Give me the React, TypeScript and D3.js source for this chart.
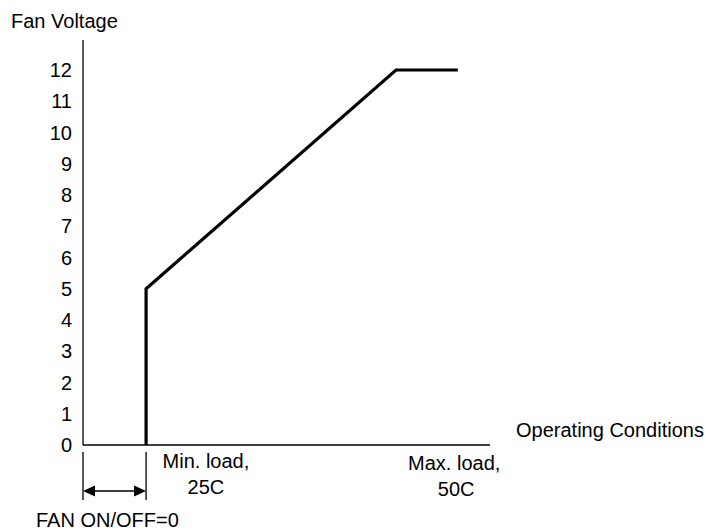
import React from "react";
import * as d3 from "d3";

// Data
const opCondition = [15.5, 15.5, 76.9, 92.1]; // operating condition (arbitrary units along x)
const fanVoltage = [0, 5, 12, 12];
const yTicks = [0, 1, 2, 3, 4, 5, 6, 7, 8, 9, 10, 11, 12];
const minLoadX = 15.5;
const maxLoadLabelX = 91.2;
const minLoadLabelX = 30.2;

const W = 706;
const H = 531;
const FONT = "'Liberation Sans', Arial, sans-serif";
const FS = 20;

export default function App() {
  const x = d3.scaleLinear().domain([0, 100]).range([83, 490]);
  const y = d3.scaleLinear().domain([0, 12]).range([445, 70]);
  const line = d3
    .line<number>()
    .x((d, i) => x(opCondition[i]))
    .y((d) => y(d));

  const x0 = x(0);
  const xMin = x(minLoadX);
  const arrowY = 491;
  const ah = 12; // arrowhead length
  const aw = 5.5; // arrowhead half-height

  return (
    <svg
      width={W}
      height={H}
      style={{ position: "absolute", left: 0, top: 0, background: "#fff" }}
      fontFamily={FONT}
    >
      <rect x={0} y={0} width={W} height={H} fill="#fff" />
      {/* axis title */}
      <text x={11} y={28} fontSize={FS} fill="#000">
        Fan Voltage
      </text>
      {/* y axis */}
      <line x1={x0} x2={x0} y1={y(12.96)} y2={y(0)} stroke="#000" strokeWidth={1.3} />
      {yTicks.map((t) => (
        <text
          key={t}
          x={72}
          y={y(t)}
          dy="0.36em"
          textAnchor="end"
          fontSize={FS}
          fill="#000"
        >
          {t}
        </text>
      ))}
      {/* x axis */}
      <line x1={x0} x2={x(100)} y1={y(0)} y2={y(0)} stroke="#000" strokeWidth={1.3} />
      <text x={516} y={437} fontSize={FS} fill="#000">
        Operating Conditions
      </text>
      {/* data line */}
      <path
        d={line(fanVoltage) || ""}
        fill="none"
        stroke="#000"
        strokeWidth={3.2}
        strokeLinejoin="miter"
      />
      {/* x labels */}
      <text x={x(minLoadLabelX)} y={468} textAnchor="middle" fontSize={FS} fill="#000">
        Min. load,
      </text>
      <text x={x(minLoadLabelX)} y={494} textAnchor="middle" fontSize={FS} fill="#000">
        25C
      </text>
      <text x={x(maxLoadLabelX)} y={470} textAnchor="middle" fontSize={FS} fill="#000">
        Max. load,
      </text>
      <text x={x(maxLoadLabelX) + 2} y={496} textAnchor="middle" fontSize={FS} fill="#000">
        50C
      </text>
      {/* dimension markers */}
      <line x1={x0} x2={x0} y1={452} y2={500} stroke="#000" strokeWidth={1.3} />
      <line x1={xMin} x2={xMin} y1={452} y2={500} stroke="#000" strokeWidth={1.3} />
      <line x1={x0 + ah} x2={xMin - ah} y1={arrowY} y2={arrowY} stroke="#000" strokeWidth={1.5} />
      <path
        d={`M${x0},${arrowY}L${x0 + ah},${arrowY - aw}L${x0 + ah},${arrowY + aw}Z`}
        fill="#000"
      />
      <path
        d={`M${xMin},${arrowY}L${xMin - ah},${arrowY - aw}L${xMin - ah},${arrowY + aw}Z`}
        fill="#000"
      />
      <text x={36} y={527} fontSize={FS} fill="#000">
        FAN ON/OFF=0
      </text>
    </svg>
  );
}
